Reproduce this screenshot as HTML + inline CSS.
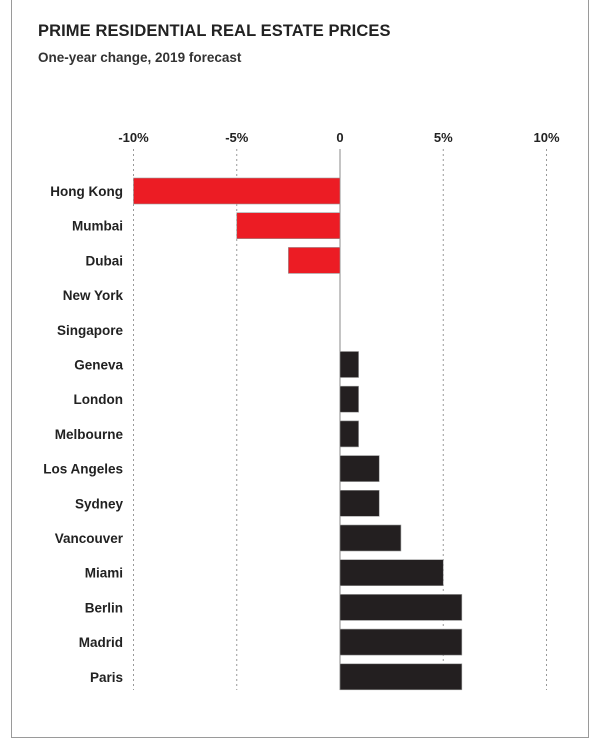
<!DOCTYPE html>
<html><head><meta charset="utf-8"><style>
html,body{margin:0;padding:0;background:#fff;}
body{width:600px;height:727px;position:relative;overflow:hidden;font-family:"Liberation Sans",sans-serif;}
#frame{position:absolute;left:11px;top:-2px;width:578px;height:740px;border:1px solid #9a9a9a;box-sizing:border-box;}
#title{position:absolute;left:38px;top:22px;font-size:16.5px;font-weight:bold;color:#222;letter-spacing:0.1px;}
#sub{position:absolute;left:38px;top:50px;font-size:13.5px;font-weight:bold;color:#333;}
svg{position:absolute;left:0;top:0;}
</style></head><body>
<div id="frame"></div>
<div id="title">PRIME RESIDENTIAL REAL ESTATE PRICES</div>
<div id="sub">One-year change, 2019 forecast</div>
<svg id="chart" width="600" height="727"></svg>
<script>
const categories=["Hong Kong","Mumbai","Dubai","New York","Singapore","Geneva","London","Melbourne","Los Angeles","Sydney","Vancouver","Miami","Berlin","Madrid","Paris"];
const values=[-10,-5,-2.5,0,0,0.9,0.9,0.9,1.9,1.9,2.95,5,5.9,5.9,5.9];
const tickValues=[-10,-5,0,5,10];
const tickLabels=["-10%","-5%","0","5%","10%"];
const svg=document.getElementById('chart');
const NS="http://www.w3.org/2000/svg";
const x=v=>340+v*20.65;
const y=i=>191+i*34.7;
function mk(t,a){const e=document.createElementNS(NS,t);for(const k in a)e.setAttribute(k,a[k]);svg.appendChild(e);return e;}
tickValues.forEach((v,i)=>{
  const g=mk('line',{x1:x(v),x2:x(v),y1:149,y2:690,stroke:v===0?'#888':'#999','stroke-width':1,'stroke-dasharray':v===0?'none':'2,3'});
  
  
  const t=mk('text',{x:x(v),y:142,'text-anchor':'middle','font-size':13,'font-weight':'bold',fill:'#222'});
  t.textContent=tickLabels[i];
  
  
});
categories.forEach((c,i)=>{
  const v=values[i];
  const r=mk('rect',{x:Math.min(x(0),x(v)),y:y(i)-13,width:Math.abs(x(v)-x(0)),height:26,fill:v<0?'#ec1c24':'#231f20',stroke:'#999','stroke-width':v===0?0:0.6});
  
  
  const t=mk('text',{x:123,y:y(i)+5,'text-anchor':'end','font-size':13.5,'font-weight':'bold',fill:'#222'});
  t.textContent=c;
  
  
});
</script>
</body></html>
